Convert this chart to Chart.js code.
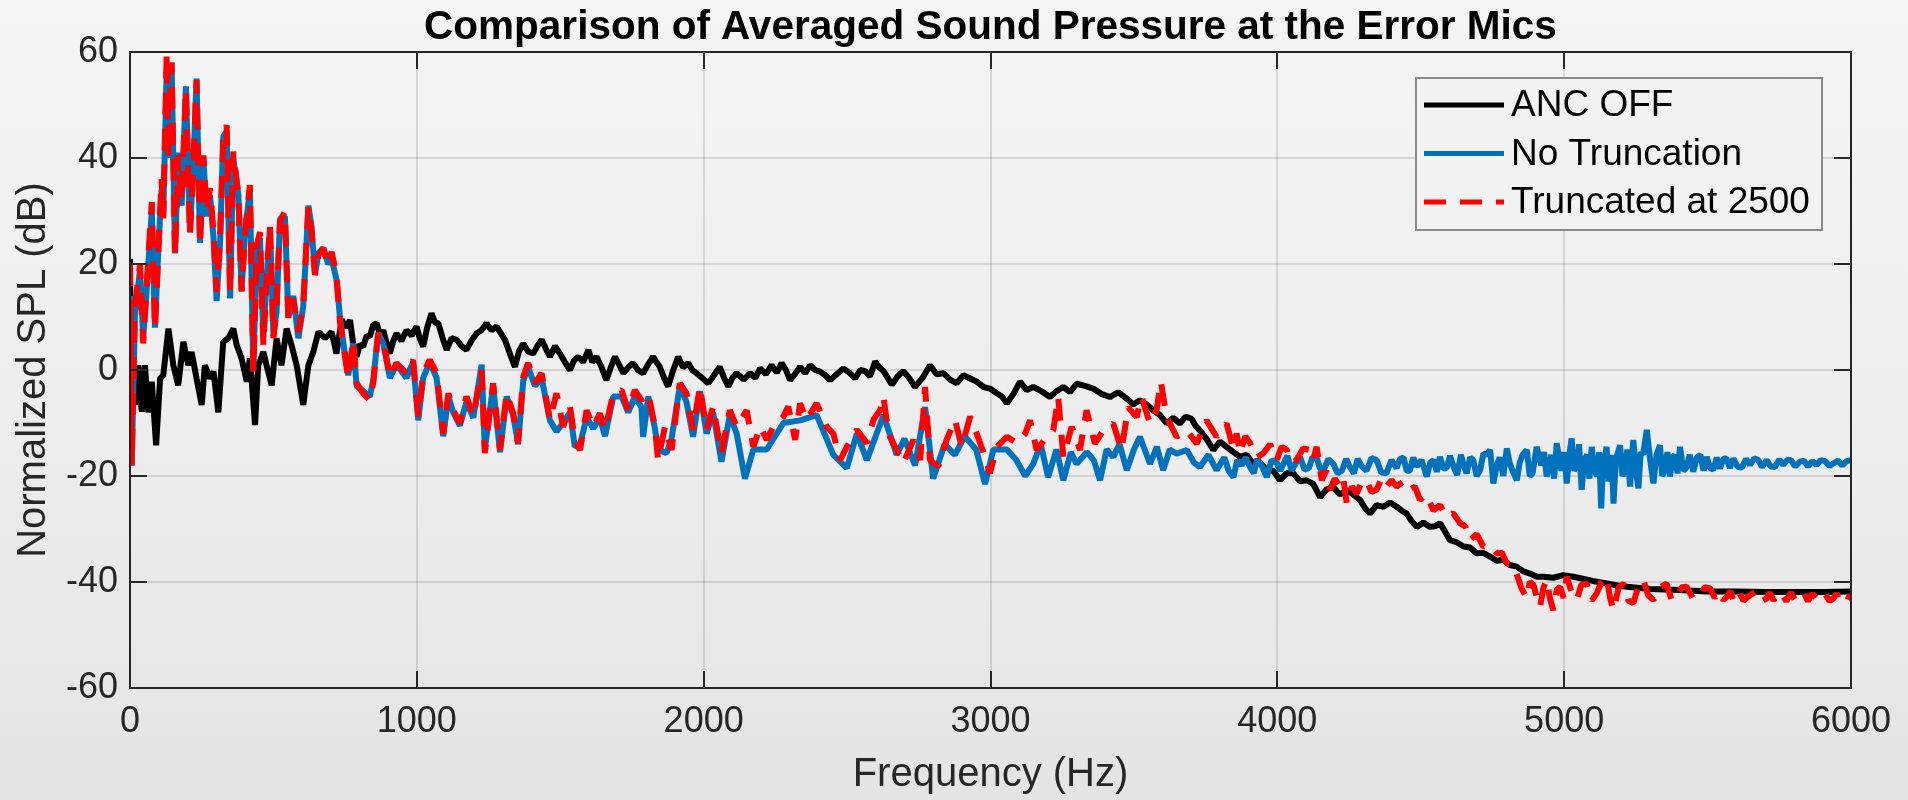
<!DOCTYPE html>
<html>
<head>
<meta charset="utf-8">
<script src="https://cdn.jsdelivr.net/npm/chart.js@4.4.1/dist/chart.umd.min.js"></script>
<style>
  html, body { margin: 0; padding: 0; }
  body {
    width: 1908px; height: 800px; overflow: hidden;
    background: linear-gradient(180deg, #f5f5f5 0%, #ededed 55%, #e4e4e4 100%);
  }
  #chart { display: block; }
</style>
</head>
<body>
<canvas id="chart" width="1908" height="800"></canvas>
<script>
// Dados (Hz, dB)
const xTickValues = [0, 1000, 2000, 3000, 4000, 5000, 6000];
const yTickValues = [-60, -40, -20, 0, 20, 40, 60];

const seriesLabels = ['ANC OFF', 'No Truncation', 'Truncated at 2500'];

const ancOffHz = [0, 4, 10, 17, 29, 41, 52, 64, 76, 91, 105, 116, 134, 151, 168, 186, 203, 215, 232, 250,
  261, 279, 291, 308, 325, 343, 360, 372, 389, 407, 418, 436, 447, 465, 476, 494, 511, 528, 546, 563,
  581, 604, 622, 639, 657, 680, 703, 720, 738, 752, 767, 778, 790, 801, 813, 825, 836, 848, 860, 872,
  883, 895, 906, 918, 929, 946, 964, 982, 999, 1010, 1022, 1036, 1051, 1063, 1075, 1090, 1104, 1121, 1139, 1156,
  1173, 1190, 1208, 1225, 1243, 1260, 1278, 1292, 1307, 1325, 1342, 1356, 1371, 1388, 1406, 1420, 1435, 1450, 1464, 1482,
  1499, 1516, 1534, 1548, 1563, 1580, 1598, 1612, 1627, 1644, 1661, 1676, 1691, 1705, 1720, 1737, 1754, 1771, 1789, 1806,
  1824, 1835, 1847, 1862, 1876, 1894, 1911, 1928, 1946, 1960, 1975, 1995, 2016, 2036, 2056, 2071, 2086, 2100, 2115, 2140,
  2162, 2180, 2197, 2217, 2237, 2255, 2272, 2287, 2301, 2318, 2336, 2354, 2371, 2389, 2406, 2424, 2441, 2464, 2487, 2508,
  2528, 2546, 2563, 2580, 2598, 2612, 2627, 2642, 2656, 2676, 2696, 2716, 2737, 2763, 2789, 2812, 2836, 2859, 2882, 2905,
  2929, 2952, 2975, 2998, 3022, 3040, 3057, 3080, 3103, 3126, 3149, 3178, 3207, 3230, 3254, 3277, 3300, 3329, 3358, 3387,
  3416, 3445, 3475, 3498, 3521, 3545, 3568, 3591, 3614, 3637, 3660, 3680, 3701, 3715, 3730, 3753, 3777, 3800, 3823, 3847,
  3870, 3893, 3916, 3940, 3963, 3986, 4009, 4032, 4056, 4079, 4102, 4125, 4149, 4172, 4195, 4218, 4242, 4265, 4288, 4305,
  4323, 4346, 4370, 4393, 4416, 4433, 4451, 4468, 4486, 4509, 4532, 4550, 4567, 4585, 4602, 4625, 4649, 4672, 4695, 4718,
  4741, 4765, 4788, 4811, 4834, 4858, 4881, 4904, 4927, 4962, 4997, 5032, 5100, 5200, 5300, 5400, 5500, 5600, 5700, 5800,
  5900, 6000];
const ancOffDb = [21, -8, -1.6, -6.6, 0.9, -7.9, 0.9, -8, -2.2, -14.2, -1.6, -1, 7.8, 0.9, -2.9, 5.3, 0.9, 3.4, -1.6, -6.6,
  0.9, -1.6, -0.3, -8, 5.3, 6, 7.8, 4.7, 2.2, -2.2, 2.2, -10.4, 0.9, 3.4, 0.9, -2.9, 6, 0.9, 7.8, 4.7,
  0.9, -6.6, 0.9, 3.4, 7.2, 6, 7.2, 3.1, 9.5, 8, 9.4, 5, 2.5, 4.8, 4.4, 6.5, 6.3, 8.5, 8.8, 6.5,
  7.5, 5, 3.1, 5.5, 6.9, 5.5, 7.5, 6.5, 8.2, 6, 4.4, 8, 10.7, 9, 8.8, 6, 3.8, 6, 5.7, 4.5,
  3.8, 5.5, 6.9, 7.5, 8.8, 7.5, 8.2, 7, 5.7, 3, 0.6, 3.5, 5.0, 3.5, 3.1, 4.5, 5.7, 4, 2.5, 4.5,
  3.1, 1.5, 0, 1.8, 2.5, 1.5, 3.8, 1.5, 2.5, 0.5, -1.9, 0.5, 2.5, 1, -0.6, 0.5, 1.3, 0, -0.6, 1,
  2.5, 1.5, 0.6, -1.5, -3.1, 0, 2.5, 0.5, 1.3, 0, -0.6, -1.5, -2.5, -1, 0.6, -1.5, -3.1, -1.5, -0.6, -1.8,
  -0.6, -1.5, 0.3, -0.8, 0.9, -0.5, 1.3, 0, -1.9, -0.8, 0.6, -0.6, 0.9, 0, -0.3, -1, -1.9, -0.8, 0.3, -0.5,
  -1.6, 0, -0.2, -1.2, 1.6, 0.5, -0.2, -1.5, -2.8, -1.2, -0.2, -1.5, -3.2, -1.5, 0.9, -0.8, -0.6, -1.8, -2.5, -1,
  -1.6, -2.2, -3.2, -3.5, -4.4, -5, -6.3, -4.5, -2.2, -3.8, -3.2, -4, -5.1, -4, -3.2, -4.2, -2.6, -3, -3.5, -4.5,
  -5.1, -4.2, -5.4, -6.5, -5.7, -6.5, -7.6, -8.5, -10.1, -9, -10.1, -8.8, -9.2, -10.5, -11.4, -13, -15.1, -13.5, -14.5, -15.5,
  -16.4, -16, -17.7, -17.5, -18.9, -19, -20.8, -19.5, -19.5, -21, -20.8, -21.5, -24, -22.5, -22.1, -23.5, -22.7, -23.5, -24.5, -26,
  -27.1, -25.5, -25.8, -25, -25.8, -26.5, -27.1, -28.5, -29.6, -28.8, -29.6, -29.5, -28.9, -30.5, -32.1, -32.5, -33.3, -33.5, -34.6, -34.5,
  -35.2, -36, -35.8, -36.8, -37.1, -38, -38.4, -39, -39, -39.2, -38.7, -39, -39.8, -40.8, -41.3, -41.5, -41.8, -41.8, -41.9, -41.9,
  -41.9, -41.8];

const noTruncHz = [0, 6, 17, 35, 46, 58, 76, 87, 99, 110, 116, 128, 134, 145, 157, 168, 180, 195, 209, 221,
  232, 244, 256, 267, 279, 291, 302, 314, 325, 337, 349, 360, 378, 389, 401, 418, 430, 442, 453, 465,
  476, 488, 500, 511, 523, 540, 552, 569, 587, 604, 622, 633, 645, 657, 674, 691, 703, 720, 732, 749,
  761, 778, 790, 813, 836, 848, 865, 883, 906, 929, 964, 987, 1005, 1022, 1045, 1069, 1092, 1110, 1127, 1150,
  1173, 1197, 1226, 1237, 1266, 1290, 1313, 1336, 1353, 1371, 1388, 1412, 1435, 1464, 1487, 1510, 1534, 1551, 1569, 1592,
  1615, 1638, 1656, 1685, 1714, 1737, 1760, 1783, 1789, 1807, 1830, 1841, 1870, 1888, 1917, 1940, 1963, 1987, 2010, 2033,
  2062, 2091, 2115, 2144, 2173, 2220, 2278, 2336, 2394, 2452, 2499, 2534, 2569, 2627, 2673, 2700, 2737, 2772, 2800, 2840,
  2876, 2910, 2950, 2981, 3010, 3057, 3090, 3121, 3149, 3175, 3201, 3230, 3254, 3280, 3300, 3336, 3360, 3382, 3405, 3428,
  3450, 3475, 3500, 3521, 3556, 3580, 3602, 3625, 3649, 3684, 3710, 3730, 3760, 3788, 3815, 3830, 3847, 3860, 3875, 3890,
  3905, 3918, 3930, 3945, 3963, 3980, 3998, 4010, 4021, 4035, 4050, 4065, 4079, 4095, 4110, 4122, 4137, 4148, 4160, 4178,
  4195, 4210, 4225, 4240, 4253, 4267, 4280, 4295, 4311, 4328, 4346, 4362, 4380, 4398, 4416, 4428, 4440, 4451, 4462, 4474,
  4486, 4503, 4521, 4533, 4545, 4556, 4567, 4579, 4590, 4602, 4614, 4627, 4640, 4650, 4660, 4672, 4683, 4695, 4707, 4718,
  4730, 4742, 4753, 4765, 4775, 4788, 4800, 4810, 4820, 4835, 4845, 4855, 4870, 4880, 4890, 4904, 4920, 4930, 4939, 4955,
  4965, 4974, 4990, 5000, 5009, 5018, 5026, 5035, 5045, 5052, 5061, 5070, 5080, 5088, 5096, 5105, 5115, 5122, 5129, 5135,
  5140, 5148, 5155, 5160, 5166, 5172, 5180, 5185, 5195, 5203, 5212, 5220, 5230, 5241, 5250, 5259, 5267, 5275, 5288, 5300,
  5311, 5322, 5334, 5342, 5350, 5360, 5369, 5378, 5385, 5395, 5404, 5415, 5425, 5438, 5450, 5463, 5475, 5486, 5497, 5509,
  5520, 5532, 5543, 5555, 5565, 5578, 5590, 5605, 5620, 5634, 5648, 5662, 5675, 5690, 5706, 5720, 5735, 5750, 5764, 5777,
  5790, 5806, 5822, 5836, 5850, 5865, 5880, 5895, 5910, 5925, 5939, 5955, 5970, 5985, 6000];
const noTruncDb = [14, -18, 10, 19, 6, 15, 30, 8, 23, 34, 29, 57, 40, 58, 22, 41, 31, 53.5, 26, 39,
  55, 24, 40, 29, 33, 25, 13, 24, 44, 45, 13.5, 40, 33, 15, 26, 34, 0, 23, 25, 6,
  17, 27, 6.5, 11, 28.5, 29, 10, 14, 6, 12, 31, 27, 18, 22, 23, 20, 21, 17, 10, 3,
  -1, 5, -3, -4, -5, -2, 7, 5, -1.5, 1, -1.5, 1.5, -9.5, -1.5, 1.5, -1.5, -12.5, -5, -8, -10.5,
  -6, -9, 1, -15, -3, -15.5, -5, -8.5, -14, -2, 0.5, -3, -1.5, -9.5, -11.6, -10, -8, -14.5, -14, -9,
  -11, -9, -12.5, -5, -5, -8, -5, -7, -12.6, -5, -11, -15, -15.7, -13, -3, -6, -12.6, -4, -12, -8,
  -17.3, -8.5, -12, -20.5, -15, -15, -10, -9.5, -8.5, -16, -18.5, -12, -17, -8.5, -16, -13, -18, -7, -20.5, -14,
  -16, -12.5, -15, -21.5, -15, -15, -17, -20, -17.7, -14, -20.2, -15, -20.8, -15.5, -17.7, -15.5, -17, -20.8, -15, -16.4,
  -14, -18.9, -15, -12.6, -17.7, -14.5, -18.9, -15, -15.8, -15.1, -17.5, -18.3, -16, -18.9, -16.5, -19, -20.2, -17, -18, -16.5,
  -18.3, -19.5, -16.8, -18, -20.2, -17, -17.5, -19, -17.7, -16.2, -19, -17.5, -16.4, -18.8, -18.5, -16.5, -16.5, -18.5, -19, -16.8,
  -17.7, -19.5, -19, -16.8, -18.3, -19.5, -16.8, -18.2, -19, -16.6, -17, -19.3, -19.5, -17, -18.5, -16.8, -16.5, -19, -19, -16.5,
  -18.2, -17, -20.1, -17.5, -17, -19.2, -16.4, -18.6, -18.5, -16.2, -18.2, -19.8, -16, -18, -19.5, -16.5, -17, -20, -18.9, -15.8,
  -16, -15.1, -21.4, -18, -16.5, -20, -14.8, -17.5, -19, -20.8, -17.5, -16, -15.1, -20, -19.5, -14.5, -18, -15.5, -20.1, -16,
  -20.5, -13.8, -19, -15.5, -21.4, -16, -12.9, -19, -18, -14, -22.6, -17, -16, -20.5, -14.5, -19, -20, -15.5, -26.1, -18,
  -17, -14.5, -21, -20, -16, -25.2, -17, -16, -14.2, -20, -19, -15, -22, -13.2, -19, -22.3, -15.5, -16, -11.3, -17,
  -21.4, -16, -14.2, -20, -19, -15.5, -20.1, -16.5, -16, -19.5, -14.5, -19, -18.5, -16, -19.2, -16.5, -16, -19, -16.4, -18.5,
  -18.8, -16.5, -18.6, -16.8, -16.6, -18.5, -16.7, -18.3, -18.4, -16.8, -17.9, -16.7, -16.9, -18.3, -17, -18.2, -18.3, -16.9, -17.9, -17,
  -17, -18.2, -17.3, -17.1, -18.2, -17.2, -17.9, -17, -17.2, -18.1, -17.6, -17.1, -18, -17.2, -17];

const trunc2500Hz = [0, 6, 17, 35, 46, 58, 76, 87, 99, 110, 116, 128, 134, 145, 157, 168, 180, 195, 209, 221,
  232, 244, 256, 267, 279, 291, 302, 314, 325, 337, 349, 360, 378, 389, 401, 418, 430, 442, 453, 465,
  476, 488, 500, 511, 523, 540, 552, 569, 587, 604, 622, 633, 645, 657, 674, 691, 703, 720, 732, 749,
  761, 778, 790, 813, 836, 848, 865, 883, 906, 929, 964, 987, 1005, 1022, 1045, 1069, 1092, 1110, 1127, 1150,
  1173, 1197, 1226, 1237, 1266, 1290, 1313, 1336, 1353, 1371, 1388, 1412, 1435, 1464, 1487, 1510, 1534, 1551, 1569, 1592,
  1615, 1638, 1656, 1685, 1714, 1737, 1760, 1783, 1807, 1830, 1841, 1865, 1888, 1917, 1940, 1963, 1987, 2010, 2033, 2062,
  2091, 2115, 2150, 2173, 2197, 2220, 2243, 2278, 2295, 2319, 2336, 2359, 2394, 2429, 2452, 2476, 2499, 2534, 2569, 2592,
  2615, 2627, 2644, 2673, 2696, 2731, 2755, 2772, 2789, 2818, 2847, 2876, 2900, 2929, 2952, 2981, 2998, 3022, 3057, 3092,
  3121, 3138, 3161, 3196, 3219, 3236, 3254, 3283, 3312, 3335, 3364, 3393, 3428, 3457, 3480, 3509, 3527, 3556, 3579, 3594,
  3614, 3649, 3684, 3719, 3753, 3788, 3823, 3835, 3847, 3858, 3870, 3888, 3905, 3928, 3951, 3975, 3998, 4015, 4033, 4050,
  4067, 4090, 4114, 4125, 4137, 4155, 4170, 4184, 4200, 4219, 4230, 4242, 4260, 4277, 4295, 4311, 4328, 4346, 4363, 4381,
  4398, 4416, 4440, 4462, 4480, 4497, 4520, 4544, 4567, 4590, 4613, 4637, 4655, 4672, 4695, 4718, 4740, 4765, 4783, 4800,
  4817, 4834, 4850, 4869, 4880, 4893, 4905, 4916, 4928, 4939, 4950, 4962, 4974, 4986, 4998, 5009, 5026, 5044, 5060, 5079,
  5096, 5114, 5130, 5148, 5160, 5172, 5190, 5207, 5224, 5241, 5258, 5276, 5293, 5311, 5334, 5357, 5375, 5392, 5410, 5427,
  5450, 5474, 5490, 5509, 5525, 5540, 5555, 5567, 5580, 5590, 5600, 5610, 5625, 5648, 5665, 5680, 5693, 5706, 5718, 5730,
  5745, 5760, 5775, 5790, 5806, 5822, 5836, 5850, 5865, 5880, 5895, 5910, 5925, 5939, 5950, 5960, 5975, 5991, 6000];
const trunc2500Db = [20, -18, 12, 20, 5, 16, 31.7, 7.8, 22.3, 36, 28.6, 60, 40, 58, 21.7, 40.5, 31.7, 53, 25.5, 39,
  54.7, 23.6, 40.5, 29.9, 34.3, 26, 14.8, 24.8, 43, 46.2, 14.8, 41.2, 33, 14.8, 26, 34.9, -0.3, 23.6, 26, 4.7,
  17.3, 27.3, 6, 12.2, 28, 29.9, 9.7, 13.5, 7.2, 12.2, 30.8, 26, 17.9, 21.7, 23, 19.8, 22.3, 17.9, 9.1, 2.8,
  -1.6, 5.7, -2.5, -4.4, -5.7, -2.5, 6.9, 5.7, -1.3, 1.3, -0.6, 1.9, -8.8, -0.6, 1.9, -0.6, -12, -4.4, -7.6, -10.1,
  -5, -8.8, 0, -15.7, -2.5, -15.1, -4.4, -8.2, -13.8, -1.3, 1.3, -2.5, -0.6, -9.4, -4.4, -10.7, -6.9, -13.2, -15.1, -7.6,
  -10.7, -8.2, -11.3, -4.4, -3.8, -7.6, -3.8, -5.7, -4.4, -10.7, -17, -10.7, -15.1, -2.5, -4.4, -11.3, -3.1, -11.3, -6.9, -15.7,
  -7.6, -10.7, -7.6, -14.5, -10.7, -13.2, -10.7, -8.8, -6.9, -13.2, -6.3, -9.4, -6.3, -10.7, -12, -17, -14.5, -11.3, -13.8, -9.4,
  -7.6, -5, -12, -15.1, -17.6, -13.2, -17, -3.2, -17, -18.2, -13.2, -9.4, -14.5, -8.8, -12, -16.4, -19.5, -14.5, -12.6, -13.8,
  -12, -9.5, -15.1, -12.6, -11.4, -5.1, -16.4, -10.7, -15.1, -7.6, -13.9, -11.4, -10.1, -15.1, -7, -8.9, -5.1, -10.1, -7.6, -2.2,
  -8.9, -12.6, -11.4, -13.9, -9.5, -12.6, -10.1, -12.5, -15.1, -12, -15.7, -12.5, -13.8, -16.5, -15.7, -14, -17, -14.5, -15.1, -17.5,
  -17, -14.8, -15.1, -17, -14.5, -20.8, -19, -22.6, -20.5, -22, -20.5, -25.2, -22, -23.3, -21, -20.8, -23, -22.6, -20.5, -22,
  -20.8, -22, -21, -22.6, -22, -24.5, -23.5, -26.5, -25.5, -27.7, -27, -28.9, -29.5, -32.1, -31, -33.3, -33, -34.6, -34.5, -36.5,
  -36.5, -38.4, -41, -43, -40, -40.5, -43, -44.7, -41, -39.6, -43, -45.3, -41.5, -40.9, -43, -39, -42, -43.4, -40.5, -40.3,
  -43.5, -42.1, -40, -39, -43, -45.3, -41, -40.3, -43.5, -44, -41, -39.6, -42.5, -43.4, -41, -40.3, -43.5, -42.8, -41, -40.9,
  -43.2, -42.5, -41, -41.2, -43, -41.8, -43.4, -42.8, -41.7, -43.5, -42, -42, -43.5, -42.5, -41.9, -41.9, -43.5, -43.1, -42, -43.5,
  -42, -42.4, -43.6, -42, -43.5, -42.8, -42.1, -43.6, -42.2, -43.2, -42.1, -42.2, -43.6, -43.1, -42.2, -43.5, -42.3, -42.8, -43];

const AXIS_COLOR = '#262626';
const GRID_COLOR = 'rgba(0, 0, 0, 0.11)';
const FONT = "'Liberation Sans', Arial, Helvetica, sans-serif";
const TICK_LEN = 17;

function toPoints(xs, ys) {
    return xs.map((x, i) => ({ x: x, y: ys[i] }));
}

/**
 * Moldura estilo MATLAB: caixa, ticks internos, legenda e título
 */
const matlabFrame = {
    id: 'matlabFrame',
    afterDatasetsDraw(chart) {
        const { ctx, chartArea: a, scales } = chart;
        const x = scales.x, y = scales.y;
        ctx.save();

        // caixa e ticks
        ctx.strokeStyle = AXIS_COLOR;
        ctx.lineWidth = 2;
        ctx.beginPath();
        xTickValues.forEach(v => {
            const px = Math.round(x.getPixelForValue(v));
            ctx.moveTo(px, a.bottom); ctx.lineTo(px, a.bottom - TICK_LEN);
            ctx.moveTo(px, a.top); ctx.lineTo(px, a.top + TICK_LEN);
        });
        yTickValues.forEach(v => {
            const py = Math.round(y.getPixelForValue(v));
            ctx.moveTo(a.left, py); ctx.lineTo(a.left + TICK_LEN, py);
            ctx.moveTo(a.right, py); ctx.lineTo(a.right - TICK_LEN, py);
        });
        ctx.stroke();
        ctx.strokeRect(a.left, a.top, a.right - a.left, a.bottom - a.top);

        // legenda
        const box = { left: a.right - 435, top: a.top + 26, width: 406, height: 152 };
        ctx.fillStyle = '#f2f2f2';
        ctx.fillRect(box.left, box.top, box.width, box.height);
        ctx.strokeStyle = '#8a8a8a';
        ctx.lineWidth = 2;
        ctx.strokeRect(box.left, box.top, box.width, box.height);

        ctx.font = '37px ' + FONT;
        ctx.textBaseline = 'middle';
        ctx.textAlign = 'left';
        chart.data.datasets.forEach((ds, i) => {
            const rowY = box.top + 27 + i * 48.5;
            ctx.strokeStyle = ds.borderColor;
            ctx.lineWidth = 5;
            ctx.setLineDash(ds.borderDash || []);
            ctx.beginPath();
            ctx.moveTo(box.left + 8, rowY);
            ctx.lineTo(box.left + 88, rowY);
            ctx.stroke();
            ctx.setLineDash([]);
            ctx.fillStyle = '#000';
            ctx.fillText(ds.label, box.left + 95, rowY + 1);
        });

        // título
        ctx.fillStyle = '#000';
        ctx.font = 'bold 40.5px ' + FONT;
        ctx.textAlign = 'center';
        ctx.fillText('Comparison of Averaged Sound Pressure at the Error Mics', (a.left + a.right) / 2, 28);

        ctx.restore();
    }
};

const ctx = document.getElementById('chart');

new Chart(ctx, {
    type: 'line',
    data: {
        datasets: [
            {
                label: seriesLabels[0],
                data: toPoints(ancOffHz, ancOffDb),
                borderColor: '#000000',
                borderWidth: 6,
                order: 3
            },
            {
                label: seriesLabels[1],
                data: toPoints(noTruncHz, noTruncDb),
                borderColor: '#0072BD',
                borderWidth: 6,
                order: 2
            },
            {
                label: seriesLabels[2],
                data: toPoints(trunc2500Hz, trunc2500Db),
                borderColor: '#FF0000',
                borderWidth: 6,
                borderDash: [22, 14],
                order: 1
            }
        ]
    },
    options: {
        responsive: false,
        animation: false,
        devicePixelRatio: 1,
        layout: { padding: { left: 0, right: 57, top: 52, bottom: 0 } },
        elements: {
            point: { radius: 0, hoverRadius: 0 },
            line: { tension: 0, borderJoinStyle: 'bevel', fill: false }
        },
        plugins: {
            legend: { display: false },
            title: { display: false },
            tooltip: { enabled: false }
        },
        scales: {
            x: {
                type: 'linear',
                min: 0,
                max: 6000,
                afterBuildTicks: s => { s.ticks = xTickValues.map(v => ({ value: v })); },
                afterFit: s => { s.height = 112; },
                border: { display: false },
                grid: { color: GRID_COLOR, lineWidth: 2, drawTicks: false },
                ticks: {
                    padding: 12,
                    color: AXIS_COLOR,
                    maxRotation: 0,
                    font: { family: FONT, size: 36 },
                    callback: v => String(v)
                },
                title: {
                    display: true,
                    text: 'Frequency (Hz)',
                    color: AXIS_COLOR,
                    font: { family: FONT, size: 40 },
                    padding: { top: 0, bottom: 1 }
                }
            },
            y: {
                type: 'linear',
                min: -60,
                max: 60,
                afterBuildTicks: s => { s.ticks = yTickValues.map(v => ({ value: v })); },
                afterFit: s => { s.width = 130; },
                border: { display: false },
                grid: { color: GRID_COLOR, lineWidth: 2, drawTicks: false },
                ticks: {
                    padding: 12,
                    color: AXIS_COLOR,
                    font: { family: FONT, size: 36 },
                    callback: v => String(v)
                },
                title: {
                    display: true,
                    text: 'Normalized SPL (dB)',
                    color: AXIS_COLOR,
                    font: { family: FONT, size: 40 },
                    padding: { top: 10, bottom: 0 }
                }
            }
        }
    },
    plugins: [matlabFrame]
});
</script>
</body>
</html>
